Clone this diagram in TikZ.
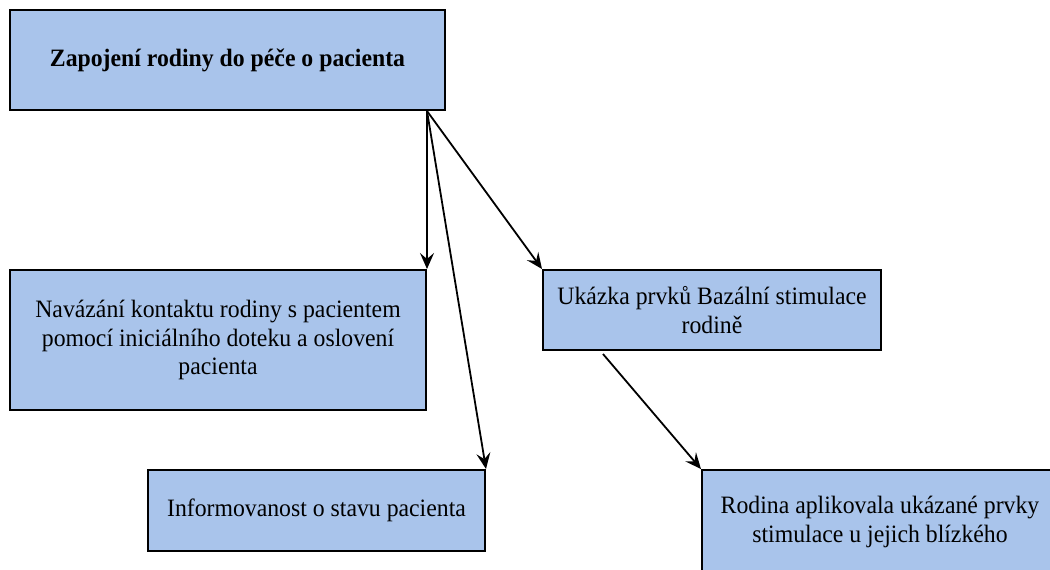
\documentclass[tikz,border=0pt]{standalone}
\usepackage{fontspec}
\setmainfont{Liberation Serif}[FakeStretch=0.95]
\usetikzlibrary{arrows.meta}

\definecolor{boxblue}{RGB}{169,196,235}

\tikzset{
	krok/.style={draw, fill=boxblue, line width=1pt, align=center,
		font=\fontsize{12.5}{14.3}\selectfont, inner sep=0pt},
	sipka/.style={line width=0.9pt, -{Stealth[length=8pt,width=7pt,inset=3pt]}}
}

\begin{document}
\begin{tikzpicture}[x=0.5pt,y=-0.5pt]
		\useasboundingbox (0,0) rectangle (1050,569);
		\clip (0,0) rectangle (1050,569);
		
		\node[krok, minimum width=217.5pt, minimum height=50pt, font=\fontsize{12.5}{14.3}\selectfont\bfseries] (zapojeni) at (227.5,60) {Zapojení rodiny do péče o pacienta};
		
		\node[krok, minimum width=208pt, minimum height=70pt] (kontakt) at (218,340) {Navázání kontaktu rodiny s pacientem\\pomocí iniciálního doteku a oslovení\\pacienta};
		
		\node[krok, minimum width=169pt, minimum height=40pt] (ukazka) at (712,310) {Ukázka prvků Bazální stimulace\\rodině};
		
		\node[krok, minimum width=168.5pt, minimum height=40.5pt] (info) at (316.5,510.5) {Informovanost o stavu pacienta};
		
		\node[krok, minimum width=178pt, minimum height=52pt] (rodina) at (880,522) {Rodina aplikovala ukázané prvky\\stimulace u jejich blízkého};
		
		\coordinate (zdroj) at (zapojeni.south -| kontakt.east);
		\coordinate (start) at ([xshift=30.5pt,yshift=-1.5pt]ukazka.south west);
		
		\draw[sipka] (zdroj) -- (kontakt.north east);
		\draw[sipka] (zdroj) -- (info.north east);
		\draw[sipka] (zdroj) -- (ukazka.north west);
		\draw[sipka] (start) -- (rodina.north west);
	\end{tikzpicture}
\end{document}
